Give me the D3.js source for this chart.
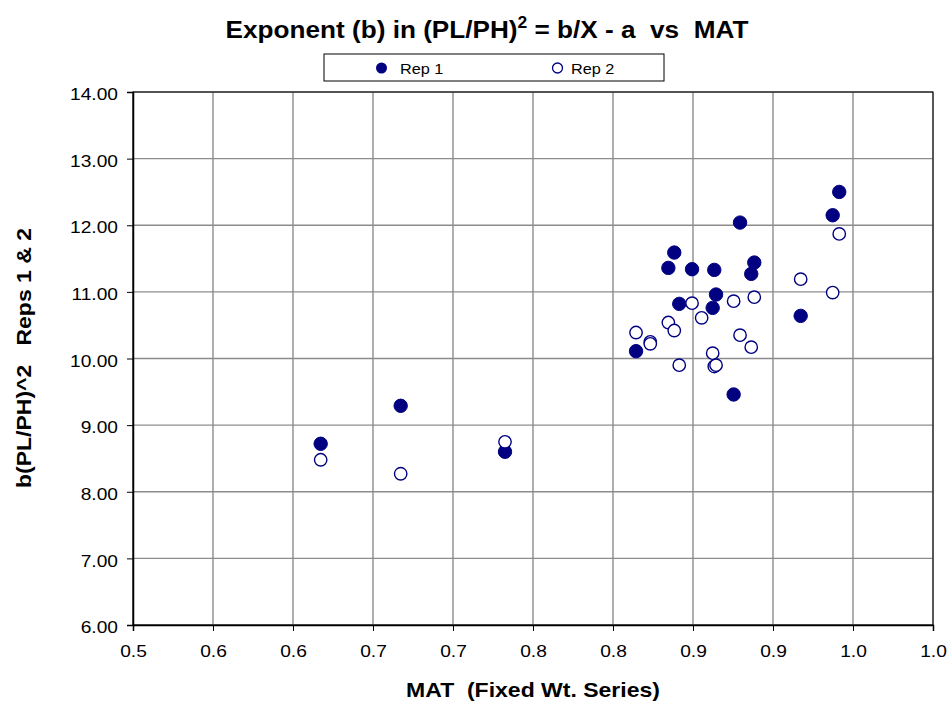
<!DOCTYPE html>
<html>
<head>
<meta charset="utf-8">
<script src="https://cdn.jsdelivr.net/npm/d3@7"></script>
<style>
  html, body { margin: 0; padding: 0; background: #fff; }
  svg { display: block; font-family: "Liberation Sans", Arial, sans-serif; }
</style>
</head>
<body>
<svg id="chart" width="952" height="704"></svg>
<script>
// ---- data ----
const rep1X = [0.6173, 0.6673, 0.7325, 0.8144, 0.8346, 0.8383, 0.8414, 0.8494, 0.8623, 0.8633, 0.8644, 0.8754, 0.8794, 0.8864, 0.8883, 0.9173, 0.9373, 0.9414];
const rep1Y = [8.72, 9.29, 8.60, 10.11, 11.36, 11.59, 10.82, 11.34, 10.76, 11.33, 10.96, 9.46, 12.04, 11.27, 11.44, 10.64, 12.15, 12.50];
const rep2X = [0.6173, 0.6673, 0.7325, 0.8144, 0.8233, 0.8233, 0.8346, 0.8383, 0.8414, 0.8494, 0.8554, 0.8623, 0.8633, 0.8644, 0.8754, 0.8794, 0.8864, 0.8883, 0.9173, 0.9373, 0.9414];
const rep2Y = [8.48, 8.27, 8.75, 10.39, 10.25, 10.22, 10.54, 10.42, 9.90, 10.83, 10.61, 10.08, 9.88, 9.90, 10.86, 10.35, 10.17, 10.92, 11.19, 10.99, 11.87];
const xTickValues = [0.50, 0.55, 0.60, 0.65, 0.70, 0.75, 0.80, 0.85, 0.90, 0.95, 1.00];
const xTickLabels = ["0.5", "0.6", "0.6", "0.7", "0.7", "0.8", "0.8", "0.9", "0.9", "1.0", "1.0"];
const yTickValues = [6, 7, 8, 9, 10, 11, 12, 13, 14];
const seriesNames = ["Rep 1", "Rep 2"];

const svg = d3.select("#chart");
const L = 133, T = 92, W = 800, H = 533;
const navy = "#000080";
const SX = 1.13; // horizontal stretch of tick text

const x = d3.scaleLinear().domain([0.5, 1.0]).range([L, L + W]);
const y = d3.scaleLinear().domain([6, 14]).range([T + H, T]);

// gridlines
const g = svg.append("g");
g.selectAll("line.vg").data(xTickValues).enter().append("line")
  .attr("x1", d => x(d)).attr("x2", d => x(d)).attr("y1", T).attr("y2", T + H)
  .attr("stroke", "#8c8c8c").attr("stroke-width", 1.4);
g.selectAll("line.hg").data(yTickValues).enter().append("line")
  .attr("x1", L).attr("x2", L + W).attr("y1", d => y(d)).attr("y2", d => y(d))
  .attr("stroke", "#8c8c8c").attr("stroke-width", 1.4);
// plot border
svg.append("rect").attr("x", L).attr("y", T).attr("width", W).attr("height", H)
  .attr("fill", "none").attr("stroke", "#000").attr("stroke-width", 1);

// axes
const xAxis = d3.axisBottom(x).tickValues(xTickValues)
  .tickFormat((d, i) => xTickLabels[i]).tickSize(6);
const gx = svg.append("g").attr("transform", `translate(0,${T + H})`).call(xAxis);
const yAxis = d3.axisLeft(y).tickValues(yTickValues)
  .tickFormat(d3.format(".2f")).tickSize(6);
const gy = svg.append("g").attr("transform", `translate(${L},0)`).call(yAxis);
[gx, gy].forEach(a => {
  a.select(".domain").attr("stroke", "#000").attr("stroke-width", 1.5);
  a.selectAll(".tick line").attr("stroke", "#000").attr("stroke-width", 1);
  a.selectAll("text").attr("font-family", "Liberation Sans, Arial, sans-serif")
    .attr("font-size", 17).attr("fill", "#000");
});
gx.selectAll(".tick text").attr("y", 0).attr("dy", "0.71em")
  .attr("transform", `translate(0,20) scale(${SX},1)`);
gy.selectAll(".tick text").attr("x", 0).attr("dy", "0.45em")
  .attr("transform", `translate(-15,0) scale(${SX},1)`);

// points Rep 1
svg.append("g").selectAll("circle").data(rep1X).enter().append("circle")
  .attr("cx", d => x(d)).attr("cy", (d, i) => y(rep1Y[i])).attr("r", 6.7)
  .attr("fill", navy).attr("stroke", navy).attr("stroke-width", 1);
// points Rep 2
svg.append("g").selectAll("circle").data(rep2X).enter().append("circle")
  .attr("cx", d => x(d)).attr("cy", (d, i) => y(rep2Y[i])).attr("r", 6.2)
  .attr("fill", "#fff").attr("stroke", navy).attr("stroke-width", 1.4);

// title
const title = svg.append("text").attr("text-anchor", "middle")
  .attr("transform", "translate(487,38) scale(1.09,1)")
  .attr("font-size", 24).attr("font-weight", "bold").attr("fill", "#000")
  .style("white-space", "pre");
title.append("tspan").text("Exponent (b) in (PL/PH)");
title.append("tspan").attr("dy", -10).attr("font-size", 16).text("2");
title.append("tspan").attr("dy", 10).text(" = b/X - a  vs  MAT");

// legend
const lg = svg.append("g");
lg.append("rect").attr("x", 324).attr("y", 54).attr("width", 340).attr("height", 27)
  .attr("fill", "#fff").attr("stroke", "#000").attr("stroke-width", 1);
const legX = [381.5, 557.5];
const legTX = [400, 571];
lg.append("circle").attr("cx", legX[0]).attr("cy", 68).attr("r", 5.5).attr("fill", navy);
lg.append("circle").attr("cx", legX[1]).attr("cy", 68).attr("r", 5).attr("fill", "#fff")
  .attr("stroke", navy).attr("stroke-width", 1.3);
lg.selectAll("text").data(seriesNames).enter().append("text")
  .attr("transform", (d, i) => `translate(${legTX[i]},73.5) scale(1.05,1)`)
  .attr("font-size", 15.5).attr("fill", "#000")
  .text(d => d);

// axis titles
svg.append("text").attr("transform", "translate(533,697) scale(1.15,1)").attr("text-anchor", "middle")
  .attr("font-size", 20).attr("font-weight", "bold").style("white-space", "pre")
  .text("MAT  (Fixed Wt. Series)");
svg.append("text").attr("transform", "translate(31,358) rotate(-90) scale(1.15,1)").attr("text-anchor", "middle")
  .attr("font-size", 20).attr("font-weight", "bold").style("white-space", "pre")
  .text("b(PL/PH)^2   Reps 1 & 2");
</script>
</body>
</html>
